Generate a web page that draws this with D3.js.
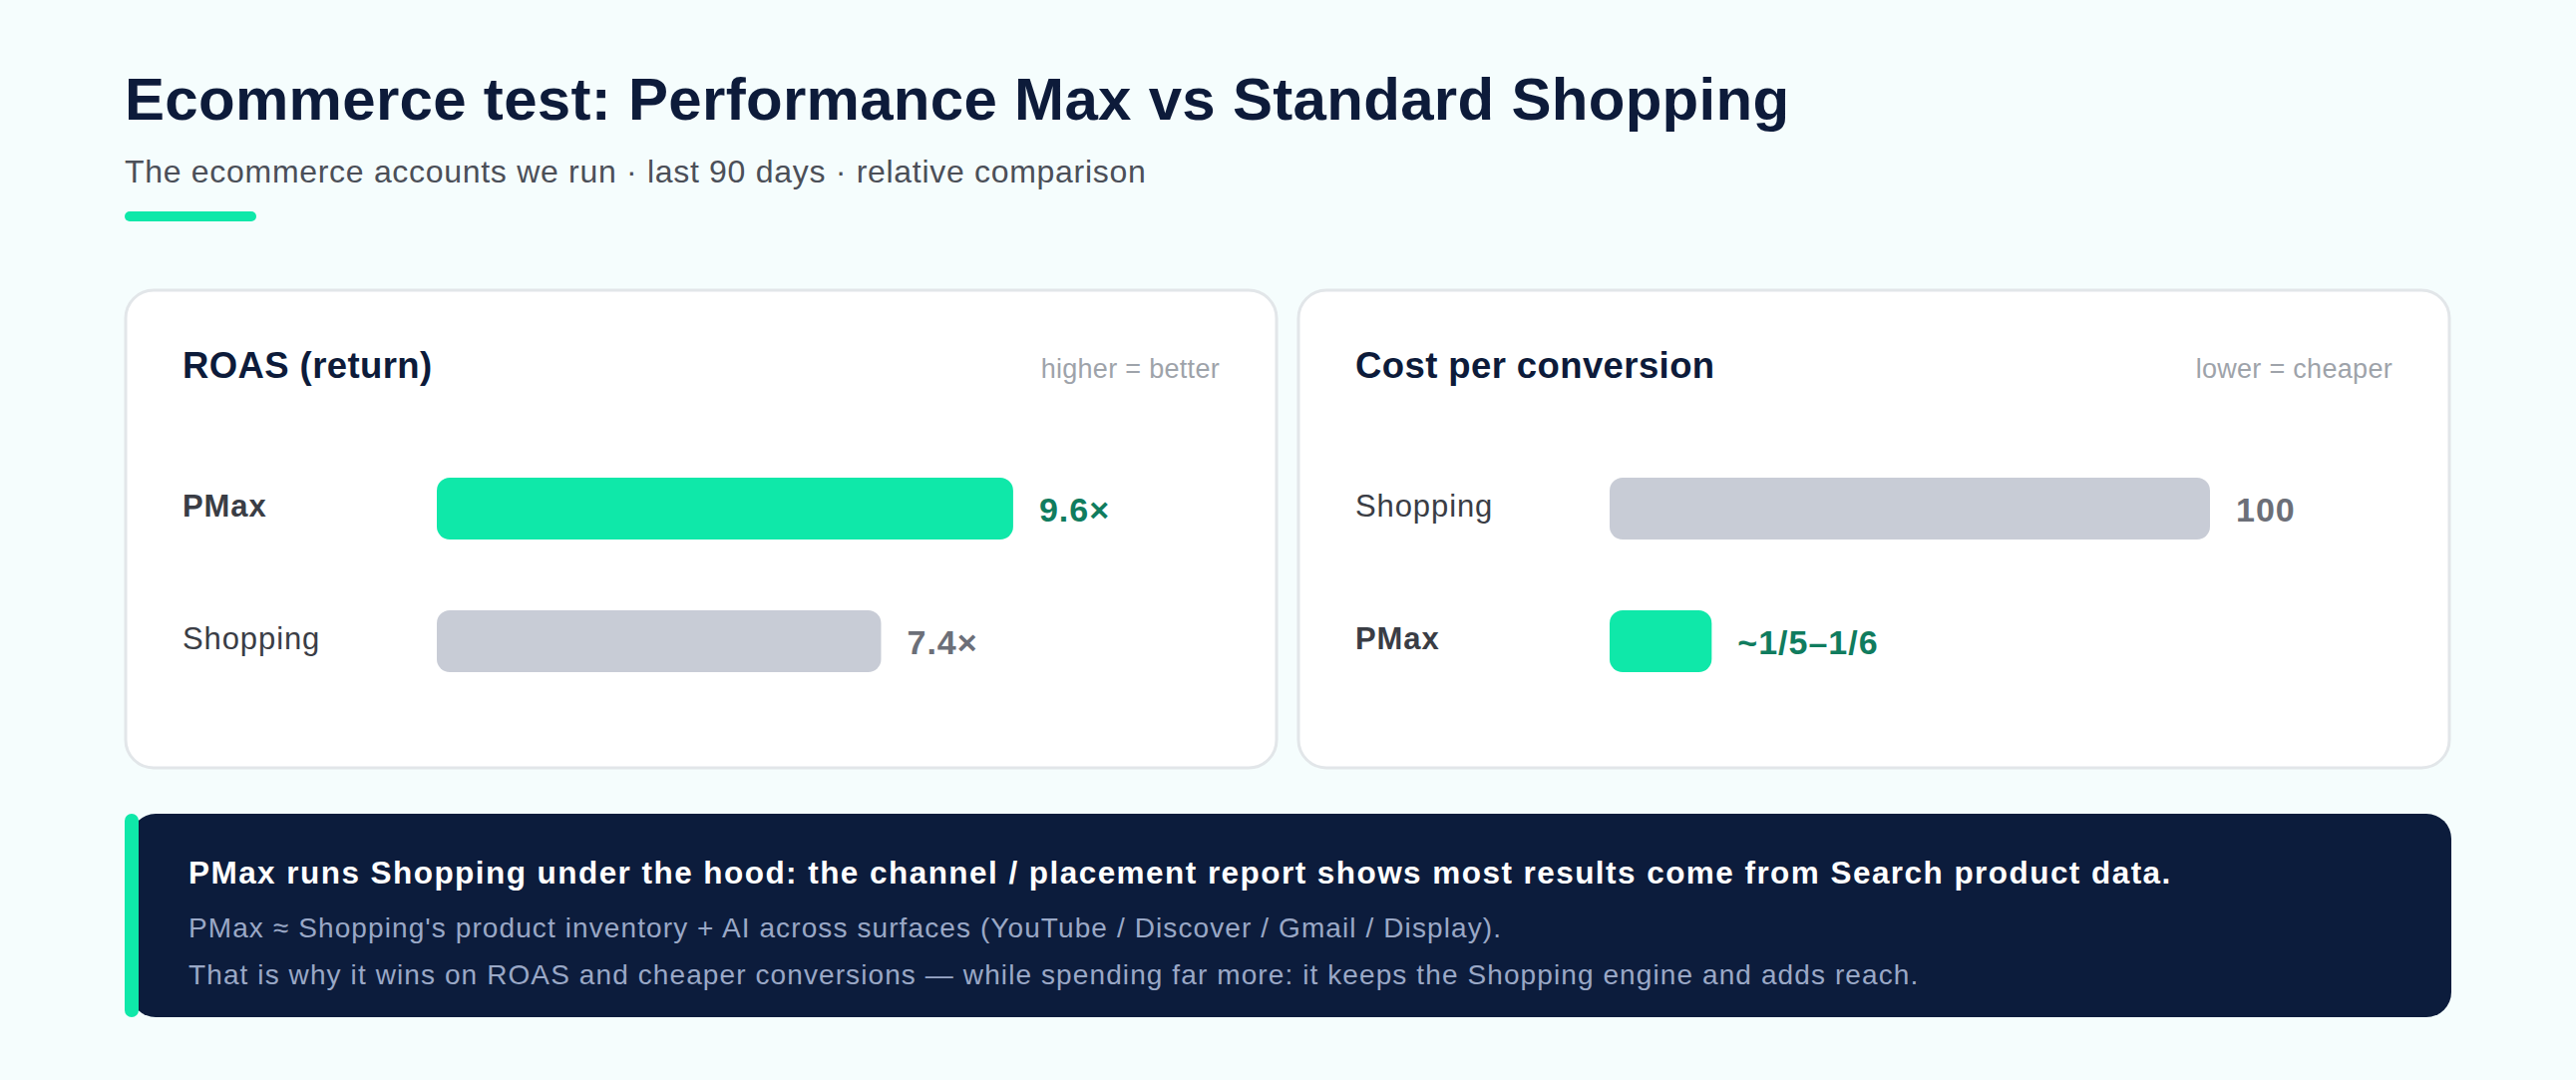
<!DOCTYPE html>
<html lang='en'>
<head>
    <meta charset='UTF-8'>
    <title>Ecommerce test: Performance Max vs Standard Shopping</title>
    <style>
        body {
            margin: 0;
            background: #f5fdfd;
        }

        svg {
            display: block;
            font-family: 'Liberation Sans', Arial, Helvetica, sans-serif;
        }
    </style>
</head>
<body>
    <div id="chart"></div>
    <script src='https://d3js.org/d3.v7.min.js'></script>
    <script>
        // data
        const roasCategories = ['PMax', 'Shopping']
        const roasValues = [9.6, 7.4]
        const roasLabels = ['9.6×', '7.4×']

        const cpaCategories = ['Shopping', 'PMax']
        const cpaValues = [100, 17] // Shopping indexed at 100, PMax ~1/5-1/6 of it
        const cpaLabels = ['100', '~1/5–1/6']

        const noteLines = [
            'PMax ≈ Shopping\'s product inventory + AI across surfaces (YouTube / Discover / Gmail / Display).',
            'That is why it wins on ROAS and cheaper conversions — while spending far more: it keeps the Shopping engine and adds reach.'
        ]

        const width = 2583
        const height = 1083
        const green = '#0fe8a9'
        const grey = '#c8ccd6'

        const svg = d3.select('#chart')
            .append('svg')
            .attr('width', width)
            .attr('height', height)

        svg.append('rect')
            .attr('width', width)
            .attr('height', height)
            .attr('fill', '#f5fdfd')

        // header
        svg.append('text')
            .attr('x', 125)
            .attr('y', 120)
            .attr('font-size', 60)
            .attr('font-weight', 700)
            .attr('letter-spacing', 0.3)
            .attr('fill', '#0d1b3a')
            .text('Ecommerce test: Performance Max vs Standard Shopping')

        svg.append('text')
            .attr('x', 125)
            .attr('y', 183)
            .attr('font-size', 32)
            .attr('letter-spacing', 0.7)
            .attr('fill', '#4b4f58')
            .text('The ecommerce accounts we run · last 90 days · relative comparison')

        svg.append('rect')
            .attr('x', 125)
            .attr('y', 212)
            .attr('width', 132)
            .attr('height', 10)
            .attr('rx', 5)
            .attr('fill', green)

        // one card with a small horizontal bar chart
        function card(x, title, hint, cats, values, labels, domainMax) {
            const w = 1154
            const h = 479
            const g = svg.append('g').attr('transform', `translate(${x}, 291)`)

            g.append('rect')
                .attr('width', w)
                .attr('height', h)
                .attr('rx', 28)
                .attr('fill', '#ffffff')
                .attr('stroke', '#e2e6e9')
                .attr('stroke-width', 3)

            g.append('text')
                .attr('x', 57)
                .attr('y', 88)
                .attr('font-size', 36.5)
                .attr('font-weight', 700)
                .attr('letter-spacing', 0.4)
                .attr('fill', '#0d1b3a')
                .text(title)

            g.append('text')
                .attr('x', w - 57)
                .attr('y', 88)
                .attr('text-anchor', 'end')
                .attr('font-size', 27)
                .attr('letter-spacing', 0.3)
                .attr('fill', '#9ea3aa')
                .text(hint)

            const xScale = d3.scaleLinear()
                .domain([0, domainMax])
                .range([0, 602])

            const yScale = d3.scalePoint()
                .domain(cats)
                .range([219, 352])

            const barH = 62
            const barX = 312

            const rows = g.selectAll('g.row')
                .data(cats.map((c, i) => ({ cat: c, value: values[i], label: labels[i] })))
                .join('g')
                .attr('class', 'row')
                .attr('transform', d => `translate(0, ${yScale(d.cat)})`)

            rows.append('text')
                .attr('x', 57)
                .attr('y', 8)
                .attr('font-size', 31)
                .attr('letter-spacing', 0.9)
                .attr('font-weight', d => d.cat === 'PMax' ? 700 : 400)
                .attr('fill', '#3a3d45')
                .text(d => d.cat)

            rows.append('rect')
                .attr('x', barX)
                .attr('y', -barH / 2)
                .attr('width', d => xScale(d.value))
                .attr('height', barH)
                .attr('rx', 13)
                .attr('fill', d => d.cat === 'PMax' ? green : grey)

            rows.append('text')
                .attr('x', d => barX + xScale(d.value) + 26)
                .attr('y', 13)
                .attr('font-size', 34)
                .attr('font-weight', 700)
                .attr('letter-spacing', 1)
                .attr('fill', d => d.cat === 'PMax' ? '#107c5e' : '#6c6f78')
                .text(d => d.label)
        }

        card(126, 'ROAS (return)', 'higher = better', roasCategories, roasValues, roasLabels, 10)
        card(1302, 'Cost per conversion', 'lower = cheaper', cpaCategories, cpaValues, cpaLabels, 100)

        // bottom note
        const note = svg.append('g')

        note.append('rect')
            .attr('x', 131)
            .attr('y', 816)
            .attr('width', 2458 - 131)
            .attr('height', 204)
            .attr('rx', 25)
            .attr('fill', '#0c1c3c')

        note.append('rect')
            .attr('x', 125)
            .attr('y', 816)
            .attr('width', 14)
            .attr('height', 204)
            .attr('rx', 7)
            .attr('fill', green)

        note.append('text')
            .attr('x', 189)
            .attr('y', 886)
            .attr('font-size', 31.5)
            .attr('font-weight', 700)
            .attr('letter-spacing', 1.45)
            .attr('fill', '#ffffff')
            .text('PMax runs Shopping under the hood: the channel / placement report shows most results come from Search product data.')

        note.selectAll('text.sub')
            .data(noteLines)
            .join('text')
            .attr('class', 'sub')
            .attr('x', 189)
            .attr('y', (d, i) => 940 + i * 47)
            .attr('font-size', 28)
            .attr('letter-spacing', 1.1)
            .attr('fill', '#9aa8c6')
            .text(d => d)
    </script>
</body>
</html>
